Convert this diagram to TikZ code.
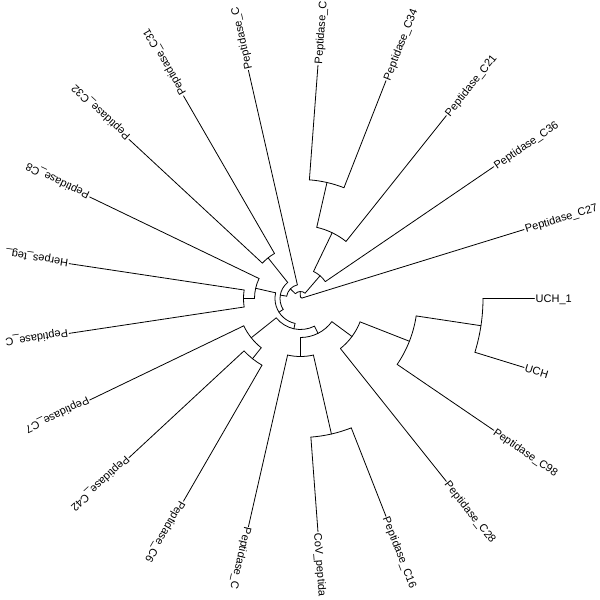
\documentclass[tikz,border=0pt]{standalone}
\usepackage{fontspec}
\setmainfont{Liberation Sans}
\newcommand\clade[6]{%
  \coordinate (#1-a) at (#3:#2pt);
  \coordinate (#1-b) at (#5:#2pt);
  \draw[edge] (#1-a) arc[start angle=#3, end angle=#5, radius=#2pt];
  \draw[edge] (#1-a) -- (#4);
  \draw[edge] (#1-b) -- (#6);
}
\begin{document}
\begin{tikzpicture}[x=1pt,y=1pt,
  edge/.style={line width=0.8pt, line cap=round, line join=round, black},
  lab/.style={anchor=west, inner xsep=1.2pt, inner ysep=0pt, outer sep=0pt,
    text height=7.9pt, text depth=0pt, font=\fontsize{11}{13}\selectfont}]
\fill[white] (-300.5,-301.5) rectangle (299.5,298.5);
\useasboundingbox (-300.5,-301.5) rectangle (299.5,298.5);
% leaf tips
\coordinate (t0) at (0:234pt);
\coordinate (t1) at (-17.1429:234pt);
\coordinate (t2) at (-34.2857:234pt);
\coordinate (t3) at (-51.4286:234pt);
\coordinate (t4) at (-68.5714:234pt);
\coordinate (t5) at (-85.7143:234pt);
\coordinate (t6) at (-102.8571:234pt);
\coordinate (t7) at (-120:234pt);
\coordinate (t8) at (-137.1429:234pt);
\coordinate (t9) at (-154.2857:234pt);
\coordinate (t10) at (-171.4286:234pt);
\coordinate (t11) at (-188.5714:234pt);
\coordinate (t12) at (-205.7143:234pt);
\coordinate (t13) at (-222.8571:234pt);
\coordinate (t14) at (-240:234pt);
\coordinate (t15) at (-257.1429:234pt);
\coordinate (t16) at (-274.2857:234pt);
\coordinate (t17) at (-291.4286:234pt);
\coordinate (t18) at (-308.5714:234pt);
\coordinate (t19) at (-325.7143:234pt);
\coordinate (t20) at (-342.8571:234pt);
% internal nodes
\coordinate (D) at (-8.5714:182.5pt);
\coordinate (E) at (-21.4286:117pt);
\coordinate (F) at (-36.4286:64pt);
\coordinate (I) at (-77.1429:139pt);
\coordinate (H) at (-90:58pt);
\coordinate (G) at (-63.2143:39pt);
\coordinate (M) at (-128.5714:77pt);
\coordinate (L) at (-141.4286:63pt);
\coordinate (K) at (-102.3214:31pt);
\coordinate (P) at (-180:57pt);
\coordinate (Q) at (-192.8571:46pt);
\coordinate (R) at (-147.5893:25.5pt);
\coordinate (S) at (-231.4286:52pt);
\coordinate (V) at (-189.5089:20.5pt);
\coordinate (W) at (-223.3259:14pt);
\coordinate (A) at (-282.8571:119pt);
\coordinate (B) at (-295.7143:73pt);
\coordinate (C) at (-310.7143:30pt);
\coordinate (Y) at (-267.0201:7pt);
% clades
\clade{D}{182.5}{0}{t0}{-17.1429}{t1}
\clade{E}{117}{-8.5714}{D}{-34.2857}{t2}
\clade{F}{64}{-21.4286}{E}{-51.4286}{t3}
\clade{I}{139}{-68.5714}{t4}{-85.7143}{t5}
\clade{H}{58}{-77.1429}{I}{-102.8571}{t6}
\clade{G}{39}{-36.4286}{F}{-90}{H}
\clade{M}{77}{-120}{t7}{-137.1429}{t8}
\clade{L}{63}{-128.5714}{M}{-154.2857}{t9}
\clade{K}{31}{-63.2143}{G}{-141.4286}{L}
\clade{P}{57}{-171.4286}{t10}{-188.5714}{t11}
\clade{Q}{46}{-180}{P}{-205.7143}{t12}
\clade{R}{25.5}{-102.3214}{K}{-192.8571}{Q}
\clade{S}{52}{-222.8571}{t13}{-240}{t14}
\clade{V}{20.5}{-147.5893}{R}{-231.4286}{S}
\clade{W}{14}{-189.5089}{V}{-257.1429}{t15}
\clade{A}{119}{-274.2857}{t16}{-291.4286}{t17}
\clade{B}{73}{-282.8571}{A}{-308.5714}{t18}
\clade{C}{30}{-295.7143}{B}{-325.7143}{t19}
\clade{Y}{7}{-223.3259}{W}{-310.7143}{C}
\clade{Z}{1.5}{-267.0201}{Y}{-342.8571}{t20}
% labels
\node[lab, rotate=0] (l0) at (t0) {UCH\_1};
\node[lab, rotate=-17.1429] (l1) at (t1) {UCH};
\node[lab, rotate=-34.2857] (l2) at (t2) {Peptidase\_C98};
\node[lab, rotate=-51.4286] (l3) at (t3) {Peptidase\_C28};
\node[lab, rotate=-68.5714] (l4) at (t4) {Peptidase\_C16};
\node[lab, rotate=-85.7143] (l5) at (t5) {CoV\_peptida};
\node[lab, rotate=-102.8571] (l6) at (t6) {Peptidase\_C};
\node[lab, rotate=-120] (l7) at (t7) {Peptidase\_C6};
\node[lab, rotate=-137.1429] (l8) at (t8) {Peptidase\_C42};
\node[lab, rotate=-154.2857] (l9) at (t9) {Peptidase\_C7};
\node[lab, rotate=-171.4286] (l10) at (t10) {Peptidase\_C};
\node[lab, rotate=-188.5714] (l11) at (t11) {Herpes\_teg\_};
\node[lab, rotate=-205.7143] (l12) at (t12) {Peptidase\_C8};
\node[lab, rotate=-222.8571] (l13) at (t13) {Peptidase\_C32};
\node[lab, rotate=-240] (l14) at (t14) {Peptidase\_C31};
\node[lab, rotate=-257.1429] (l15) at (t15) {Peptidase\_C};
\node[lab, rotate=-274.2857] (l16) at (t16) {Peptidase\_C};
\node[lab, rotate=-291.4286] (l17) at (t17) {Peptidase\_C34};
\node[lab, rotate=-308.5714] (l18) at (t18) {Peptidase\_C21};
\node[lab, rotate=-325.7143] (l19) at (t19) {Peptidase\_C36};
\node[lab, rotate=-342.8571] (l20) at (t20) {Peptidase\_C27};
\end{tikzpicture}
\end{document}
